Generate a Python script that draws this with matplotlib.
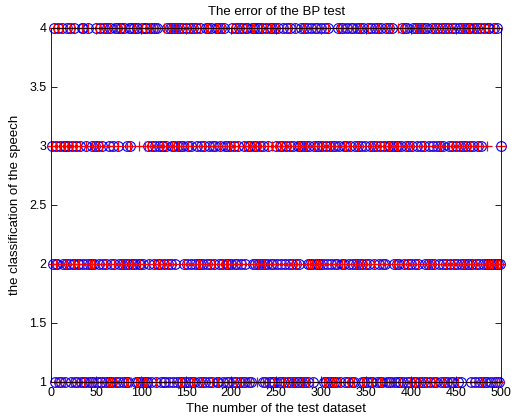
import numpy as np
import matplotlib.pyplot as plt
from matplotlib.ticker import FormatStrFormatter

plt.rcParams['font.family'] = ['Liberation Sans', 'DejaVu Sans']

# real class of the test samples 1..500 (50 samples per line)
actual_rows = [
    "3241322413 1423312432 4132241312 2314421132 4121231234",
    "1324113241 2413142132 4143214421 4213124342 2421441221",
    "4214141324 1342431423 2133121342 1423143241 3413143214",
    "2314231412 4321243123 1424132413 2341412342 1432132132",
    "4132412341 2413124431 3142342342 4324132142 3142142143",
    "2413213412 3412341231 4213213413 4134213242 1342342324",
    "3214312413 2131231243 1424321341 2341241324 3243124132",
    "1423141324 3142314123 2413413143 2132132134 1243142312",
    "3412413241 3413421423 1243124134 2314231421 4321431243",
    "2143214324 3242341234 1243124312 4121424212 2412412123",
]
actual = np.array([int(c) for row in actual_rows for c in row if c != " "])

# samples the BP network got wrong, and what it said instead
wrong_idx = [89, 98, 104, 125, 229, 245, 385, 456, 484]
wrong_pred = [1, 3, 3, 4, 1, 3, 4, 2, 3]

predicted = actual.copy()
for i, p in zip(wrong_idx, wrong_pred):
    predicted[i - 1] = p

x = np.arange(1, len(actual) + 1)

fig = plt.figure(figsize=(5.11, 4.2), dpi=100)
ax = fig.add_axes([0.1, 0.0905, 0.8806, 0.843])

ax.plot(x, actual, 'o', mfc='none', mec='b', ms=7, mew=0.8, clip_on=False)
ax.plot(x, predicted, 'r+', ms=7, mew=0.9, clip_on=False)

ax.set_xlim(0, 500)
ax.set_ylim(1, 4)
ax.set_xticks(np.arange(0, 501, 50))
ax.set_yticks(np.arange(1, 4.01, 0.5))
ax.yaxis.set_major_formatter(FormatStrFormatter('%g'))
ax.tick_params(direction='in', top=True, right=True, length=4, width=0.6, labelsize=9)
for s in ax.spines.values():
    s.set_linewidth(0.6)

ax.set_title('The error of the BP test', fontsize=9.5, pad=9)
ax.set_xlabel('The number of the test dataset', fontsize=9.5, labelpad=3)
ax.set_ylabel('the classification of the speech', fontsize=9.5, labelpad=6)

plt.savefig("out.png", dpi=100)
